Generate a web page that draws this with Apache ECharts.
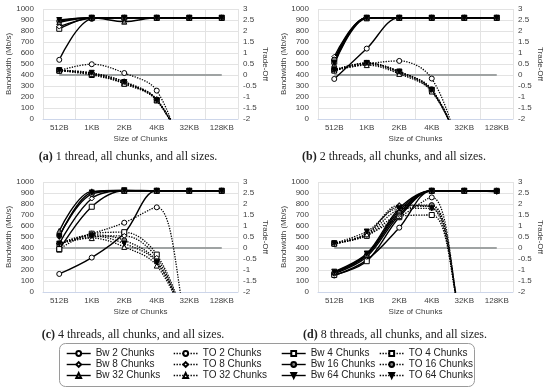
<!DOCTYPE html>
<html><head><meta charset="utf-8">
<script src="https://cdn.jsdelivr.net/npm/echarts@6/dist/echarts.min.js"></script>
<style>html,body{margin:0;padding:0;background:#fff}#c{width:550px;height:390px}</style>
</head><body><div id="c"></div>
<script>
// ---- data ----
const categories = ['512B', '1KB', '2KB', '4KB', '32KB', '128KB'];
const chunkCounts = [2, 4, 8, 16, 32, 64];
const bandwidthAxis = { min: 0, max: 1000, interval: 100 };
const tradeOffAxis = { min: -2, max: 3, interval: 0.5 };
const tradeOffBaseline = [0, 0, 0, 0, 0, 0];

// Bandwidth (Mb/s) per chunk count (rows: 2,4,8,16,32,64)
const bw1 = [
  [538, 910, 920, 920, 920, 920],
  [820, 920, 920, 920, 920, 920],
  [840, 915, 920, 920, 920, 920],
  [890, 920, 920, 920, 920, 920],
  [880, 920, 885, 920, 920, 920],
  [900, 920, 920, 920, 920, 920]
];
const to1 = [
  [0.2, 0.49, 0.09, -0.71, -4.5, -8],
  [0.2, 0.0, -0.38, -1.15, -4, -8],
  [0.2, 0.05, -0.35, -1.1, -4, -8],
  [0.22, 0.08, -0.3, -1.12, -4, -8],
  [0.2, 0.05, -0.4, -1.15, -4, -8],
  [0.22, 0.1, -0.32, -1.15, -4, -8]
];
const bw2 = [
  [364, 640, 920, 920, 920, 920],
  [521, 920, 920, 920, 920, 920],
  [566, 920, 920, 920, 920, 920],
  [540, 920, 920, 920, 920, 920],
  [497, 915, 920, 920, 920, 920],
  [510, 920, 920, 920, 920, 920]
];
const to2 = [
  [0.22, 0.5, 0.64, -0.16, -4, -8],
  [0.22, 0.53, 0.15, -0.68, -3.8, -8],
  [0.2, 0.5, 0.1, -0.72, -3.8, -8],
  [0.22, 0.55, 0.15, -0.65, -3.8, -8],
  [0.2, 0.45, 0.05, -0.75, -3.8, -8],
  [0.22, 0.55, 0.15, -0.68, -3.8, -8]
];
const bw4 = [
  [164, 313, 535, 920, 920, 920],
  [385, 775, 920, 920, 920, 920],
  [440, 850, 920, 920, 920, 920],
  [510, 890, 920, 920, 920, 920],
  [555, 915, 920, 920, 920, 920],
  [500, 905, 925, 920, 920, 920]
];
const to4 = [
  [0.2, 0.65, 1.15, 1.85, -4, -8],
  [-0.05, 0.65, 0.72, -0.3, -3.8, -8],
  [0.2, 0.5, 0.55, -0.45, -3.8, -8],
  [0.2, 0.6, 0.35, -0.6, -3.8, -8],
  [0.2, 0.45, 0.05, -0.8, -3.8, -8],
  [0.2, 0.55, 0.2, -0.65, -3.8, -8]
];
const bw8 = [
  [150, 290, 585, 920, 920, 920],
  [155, 280, 680, 920, 920, 920],
  [165, 320, 700, 920, 920, 920],
  [175, 335, 720, 920, 920, 920],
  [180, 340, 740, 920, 920, 920],
  [185, 350, 760, 920, 920, 910]
];
const to8 = [
  [0.2, 0.6, 1.4, 2.3, -4, -8],
  [0.2, 0.55, 1.45, 1.5, -4, -8],
  [0.2, 0.6, 1.75, 1.9, -4, -8],
  [0.2, 0.65, 1.9, 1.95, -4, -8],
  [0.2, 0.62, 1.95, 1.85, -4, -8],
  [0.22, 0.75, 1.8, 1.8, -4, -8]
];
const captionTags = ['(a)', '(b)', '(c)', '(d)'];
const captionTexts = [
  '1 thread, all chunks, and all sizes.',
  '2 threads, all chunks, and all sizes.',
  '4 threads, all chunks, and all sizes.',
  '8 threads, all chunks, and all sizes.'
];

// ---- build ----
const panels = [
  { bw: bw1, to: to1 }, { bw: bw2, to: to2 }, { bw: bw4, to: to4 }, { bw: bw8, to: to8 }
];
const gridPos = [[43, 9], [318, 9], [43, 182], [318, 182]];
const capPos = [[128, 157], [394, 157], [133, 335], [395, 335]];
const FONT = 'Liberation Sans, Arial, sans-serif';
const TXT = '#404040';

const sym = [
  { bw: { symbol: 'circle', fill: '#fff' }, to: { symbol: 'circle', fill: '#fff' } },
  { bw: { symbol: 'rect', fill: '#fff' }, to: { symbol: 'rect', fill: '#fff' } },
  { bw: { symbol: 'diamond', fill: '#fff' }, to: { symbol: 'diamond', fill: '#fff' } },
  { bw: { symbol: 'circle', fill: '#808080' }, to: { symbol: 'circle', fill: '#808080' } },
  { bw: { symbol: 'triangle', fill: '#808080' }, to: { symbol: 'triangle', fill: '#fff' } },
  { bw: { symbol: 'triangle', fill: '#000', rot: 180 }, to: { symbol: 'triangle', fill: '#000', rot: 180 } }
];

const grid = [], xAxis = [], yAxis = [], series = [];
panels.forEach((p, i) => {
  grid.push({ left: gridPos[i][0], top: gridPos[i][1], width: 195, height: 110 });
  xAxis.push({
    type: 'category', gridIndex: i, data: categories,
    axisTick: { show: false },
    axisLine: { lineStyle: { color: '#cdd6ea', width: 1 } },
    splitLine: { show: true, lineStyle: { color: '#e3e3e3', width: 1 } },
    axisLabel: { fontSize: 8, color: TXT, fontFamily: FONT, margin: 5, interval: 0 },
    name: 'Size of Chunks', nameLocation: 'middle', nameGap: 16,
    nameTextStyle: { fontSize: 8, color: TXT, fontFamily: FONT }
  });
  yAxis.push({
    type: 'value', gridIndex: i, position: 'left',
    min: bandwidthAxis.min, max: bandwidthAxis.max, interval: bandwidthAxis.interval,
    axisLine: { show: false }, axisTick: { show: false },
    splitLine: { show: true, lineStyle: { color: '#e3e3e3', width: 1 } },
    axisLabel: { fontSize: 8, color: TXT, fontFamily: FONT, margin: 9, formatter: v => String(v) },
    name: 'Bandwidth (Mb/s)', nameLocation: 'middle', nameGap: 28,
    nameTextStyle: { fontSize: 8, color: TXT, fontFamily: FONT }
  });
  yAxis.push({
    type: 'value', gridIndex: i, position: 'right',
    min: tradeOffAxis.min, max: tradeOffAxis.max, interval: tradeOffAxis.interval,
    axisLine: { show: false }, axisTick: { show: false }, splitLine: { show: false },
    axisLabel: { fontSize: 8, color: TXT, fontFamily: FONT, margin: 5, formatter: v => String(v) },
    name: 'Trade-Off', nameLocation: 'middle', nameGap: 23, nameRotate: -90,
    nameTextStyle: { fontSize: 8, color: TXT, fontFamily: FONT }
  });
  series.push({
    type: 'line', xAxisIndex: i, yAxisIndex: 2 * i + 1, data: tradeOffBaseline,
    symbol: 'none', silent: true, z: 1,
    lineStyle: { color: '#9fa3a3', width: 2 }
  });
  chunkCounts.forEach((c, k) => {
    const sb = sym[k].bw, st = sym[k].to;
    series.push({
      name: 'Bw ' + c + ' Chunks', type: 'line', xAxisIndex: i, yAxisIndex: 2 * i,
      data: p.bw[k], smooth: 0.35, symbol: sb.symbol, symbolSize: 5, symbolRotate: sb.rot || 0,
      color: '#000',
      itemStyle: { color: sb.fill, borderColor: '#000', borderWidth: 1 },
      lineStyle: { color: '#000', width: 1.4, type: 'solid' }, z: 3
    });
    series.push({
      name: 'TO ' + c + ' Chunks', type: 'line', xAxisIndex: i, yAxisIndex: 2 * i + 1,
      data: p.to[k], smooth: 0.35, symbol: st.symbol, symbolSize: 5, symbolRotate: st.rot || 0,
      color: '#000',
      itemStyle: { color: st.fill, borderColor: '#000', borderWidth: 1 },
      lineStyle: { color: '#000', width: 1.3, type: 'dotted' }, z: 3
    });
  });
});

const legendCols = [
  ['Bw 2 Chunks', 'Bw 8 Chunks', 'Bw 32 Chunks'],
  ['TO 2 Chunks', 'TO 8 Chunks', 'TO 32 Chunks'],
  ['Bw 4 Chunks', 'Bw 16 Chunks', 'Bw 64 Chunks'],
  ['TO 4 Chunks', 'TO 16 Chunks', 'TO 64 Chunks']
];
const legendLeft = [66, 173, 281, 379];
const legend = legendCols.map((names, j) => ({
  data: names, orient: 'vertical', left: legendLeft[j], top: 348, padding: 0,
  itemWidth: 24, itemHeight: 6, itemGap: 0, selectedMode: false,
  lineStyle: { width: 1.4 },
  textStyle: { fontSize: 10, color: '#222', fontFamily: FONT, lineHeight: 11 }
}));

const graphic = [{
  type: 'rect', shape: { x: 59.5, y: 343.5, width: 415, height: 43, r: 6 },
  style: { fill: 'none', stroke: '#9a9a9a', lineWidth: 1 }, silent: true
}];
captionTags.forEach((t, i) => {
  graphic.push({
    type: 'text', x: capPos[i][0], y: capPos[i][1], silent: true,
    style: {
      text: '{b|' + t + '} ' + captionTexts[i],
      align: 'center', verticalAlign: 'middle',
      fontSize: 12, fontFamily: 'Liberation Serif, DejaVu Serif, serif', fill: '#222',
      rich: { b: { fontWeight: 'bold', fontSize: 12, fontFamily: 'Liberation Serif, DejaVu Serif, serif', fill: '#222' } }
    }
  });
});

const chart = echarts.init(document.getElementById('c'), null, { renderer: 'canvas' });
chart.setOption({
  animation: false, backgroundColor: '#fff',
  grid, xAxis, yAxis, series, legend, graphic
});
</script>
</body></html>
